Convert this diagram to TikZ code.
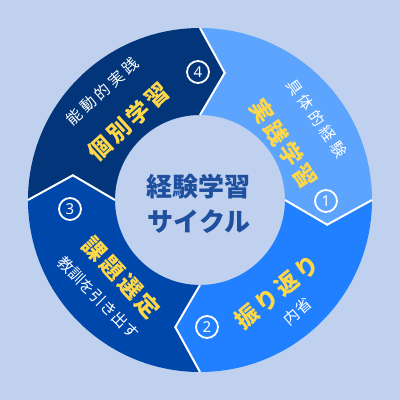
\documentclass[tikz,border=0pt]{standalone}
\usepackage{fontspec}
\setmainfont{Noto Sans}
\newfontfamily\jp{Noto Sans CJK JP}
\definecolor{bg}{HTML}{BFD1EE}
\definecolor{sA}{HTML}{5CA4FE}
\definecolor{sB}{HTML}{2080FF}
\definecolor{sC}{HTML}{0047AB}
\definecolor{sD}{HTML}{03357A}
\definecolor{gold}{HTML}{FFD84A}
\definecolor{navytext}{HTML}{1F509F}
\tikzset{
  wt/.style={text=white, inner sep=0pt, font=\jp\fontsize{15.5}{15.5}\selectfont},
  yt/.style={text=gold, inner sep=0pt, font=\jp\bfseries\fontsize{23}{23}\selectfont},
  num/.style={circle, draw=white, line width=1.8pt, minimum size=22pt, inner sep=0pt, text=white, font=\bfseries\fontsize{15}{15}\selectfont},
  sep/.style={white, line width=2pt},
}
\begin{document}
\begin{tikzpicture}[x=1pt,y=1pt]
\def\ro{172}\def\ri{85}\def\rm{129.5}\def\dl{11}
\fill[bg] (-200,-200) rectangle (200,200);
\useasboundingbox (-200,-200) rectangle (200,200);
\foreach \a/\c in {90/sA,0/sB,270/sC,180/sD} {
  \fill[\c] (\a:\ro) arc[start angle=\a, end angle=\a-90, radius=\ro]
    -- ({\a-90-\dl}:\rm) -- ({\a-90}:\ri)
    arc[start angle=\a-90, end angle=\a, radius=\ri]
    -- ({\a-\dl}:\rm) -- cycle;
}
\foreach \a in {90,0,270,180}
  \draw[sep] (\a:\ro) -- ({\a-\dl}:\rm) -- (\a:\ri);
% segment 1
\node[wt, rotate=-55] (w1) at (35:142.5) {具\kern3.5pt 体\kern3.5pt 的\kern3.5pt 経\kern3.5pt 験};
\node[yt, rotate=-56] (y1) at (34:101) {実\kern3pt 践\kern3pt 学\kern3pt 習};
% segment 2
\node[yt, rotate=39] (y2) at (-50:120) {振\kern3pt り\kern3pt 返\kern3pt り};
\node[wt, rotate=41] (w2) at (-48.7:148) {内\kern1pt 省};
% segment 3
\node[yt, rotate=-47] (y3) at (224.8:110.7) {課\kern3pt 題\kern3pt 選\kern3pt 定};
\node[wt, rotate=-45] (w3) at (224:141) {教訓を引き出す};
% segment 4
\node[wt, rotate=42] (w4) at (132:146) {能\kern3.5pt 動\kern3.5pt 的\kern3.5pt 実\kern3.5pt 践};
\node[yt, rotate=42.3] (y4) at (132.3:106) {個\kern3pt 別\kern3pt 学\kern3pt 習};
% numbers
\node[num] (n1) at (126,-1) {1};
\node[num] (n2) at (7,-127) {2};
\node[num] (n3) at (-130,-9) {3};
\node[num] (n4) at (-2,128) {4};
% center
\node[align=center, text=navytext, inner sep=0pt, font=\jp\bfseries\fontsize{26}{35}\selectfont] (c) at (-1,-4) {経験学習\\サイクル};
\end{tikzpicture}
\end{document}
